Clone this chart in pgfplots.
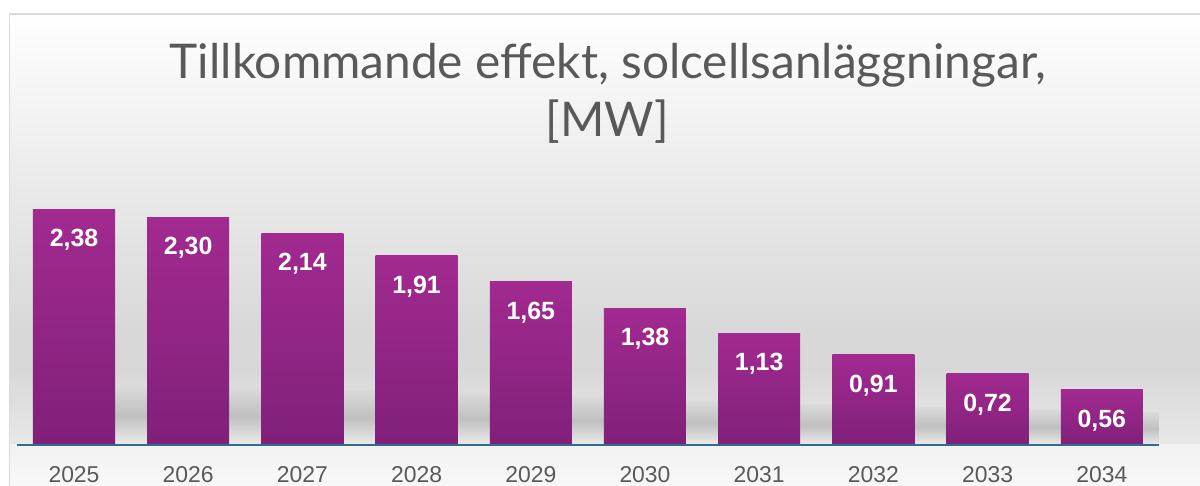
\documentclass[border=0pt]{standalone}
\usepackage{fontspec}
\usepackage{pgfplots}
\pgfplotsset{compat=1.18}
\newfontfamily\titlefont{Lato}
\newfontfamily\arial{Liberation Sans}
\definecolor{tgray}{HTML}{595959}
\definecolor{bartop}{HTML}{A22A90}
\definecolor{barbot}{HTML}{80207A}
\definecolor{axline}{HTML}{2F6D8F}
\definecolor{bgdark}{HTML}{D8D8D8}
\definecolor{bgmid}{HTML}{E8E8E8}
\definecolor{bglow}{HTML}{F2F2F2}
\definecolor{bgbot}{HTML}{F8F8F8}
\definecolor{border}{HTML}{D9D9D9}
\definecolor{shtop}{HTML}{DADADA}
\definecolor{shmid}{HTML}{C0C0C0}
\definecolor{shbot}{HTML}{ECECEC}
\pgfplotsset{onebar/.style={ybar, bar width=82bp, bar shift=0pt, draw=none, top color=bartop, bottom color=barbot, forget plot,
  nodes near coords,
  nodes near coords style={font=\arial\bfseries\fontsize{25}{28}\selectfont, text=white, anchor=north, yshift=-20bp, inner sep=0,
    /pgf/number format/.cd, fixed, fixed zerofill, precision=2, use comma, assume math mode=true}},
  shadowbar/.style={ybar, bar width=32bp, bar shift=57.1bp, draw=none, top color=shtop, bottom color=shbot, middle color=shmid, forget plot}}
\begin{document}
\begin{tikzpicture}[x=1bp,y=1bp]
\useasboundingbox (0,0) rectangle (1200,486);
\fill[white] (0,0) rectangle (1200,486);
\shade[top color=white, bottom color=bgdark] (9,472) rectangle (1200,156);
\fill[bgdark] (9,156.1) rectangle (1200,115.9);
\shade[top color=bgdark, bottom color=bgmid] (9,116) rectangle (1200,40.5);
\shade[top color=bglow, bottom color=bgbot] (9,41) rectangle (1200,0);
\draw[border, line width=1.5bp] (9.5,0) -- (9.5,472) -- (1200,472);
\node[anchor=base, text=tgray, font=\titlefont\fontsize{48}{52}\selectfont, inner sep=0] at (608,407) {Tillkommande effekt, solcellsanläggningar,};
\node[anchor=base, text=tgray, font=\titlefont\fontsize{48}{52}\selectfont, inner sep=0] at (607,349) {[MW]};
\begin{axis}[
  at={(16.9bp,41bp)}, anchor=south west,
  scale only axis, width=1142bp, height=247.5bp,
  xmin=-0.5, xmax=9.5, ymin=0, ymax=2.5,
  axis line style={draw=none},
  axis x line*=bottom, axis y line=none,
  xtick={0,...,9},
  xticklabels={2025,2026,2027,2028,2029,2030,2031,2032,2033,2034},
  xtick style={draw=none},
  xticklabel style={font=\arial\fontsize{23}{26}\selectfont, text=tgray, anchor=center, yshift=-30bp},
  ytick=\empty,
  clip=false,
]
% soft shadows in the gaps, one per bar
\addplot[shadowbar] coordinates {(0,0.59)};
\addplot[shadowbar] coordinates {(1,0.58)};
\addplot[shadowbar] coordinates {(2,0.555)};
\addplot[shadowbar] coordinates {(3,0.52)};
\addplot[shadowbar] coordinates {(4,0.485)};
\addplot[shadowbar] coordinates {(5,0.45)};
\addplot[shadowbar] coordinates {(6,0.41)};
\addplot[shadowbar] coordinates {(7,0.38)};
\addplot[shadowbar] coordinates {(8,0.355)};
\addplot[shadowbar, bar width=16bp, bar shift=49.1bp] coordinates {(9,0.33)};
\addplot[onebar] coordinates {(0,2.38)};
\addplot[onebar] coordinates {(1,2.30)};
\addplot[onebar] coordinates {(2,2.14)};
\addplot[onebar] coordinates {(3,1.91)};
\addplot[onebar] coordinates {(4,1.65)};
\addplot[onebar] coordinates {(5,1.38)};
\addplot[onebar] coordinates {(6,1.13)};
\addplot[onebar] coordinates {(7,0.91)};
\addplot[onebar] coordinates {(8,0.72)};
\addplot[onebar] coordinates {(9,0.56)};
\draw[axline, line width=2bp] (axis cs:-0.5,0) -- (axis cs:9.5,0);
\end{axis}
\end{tikzpicture}
\end{document}
